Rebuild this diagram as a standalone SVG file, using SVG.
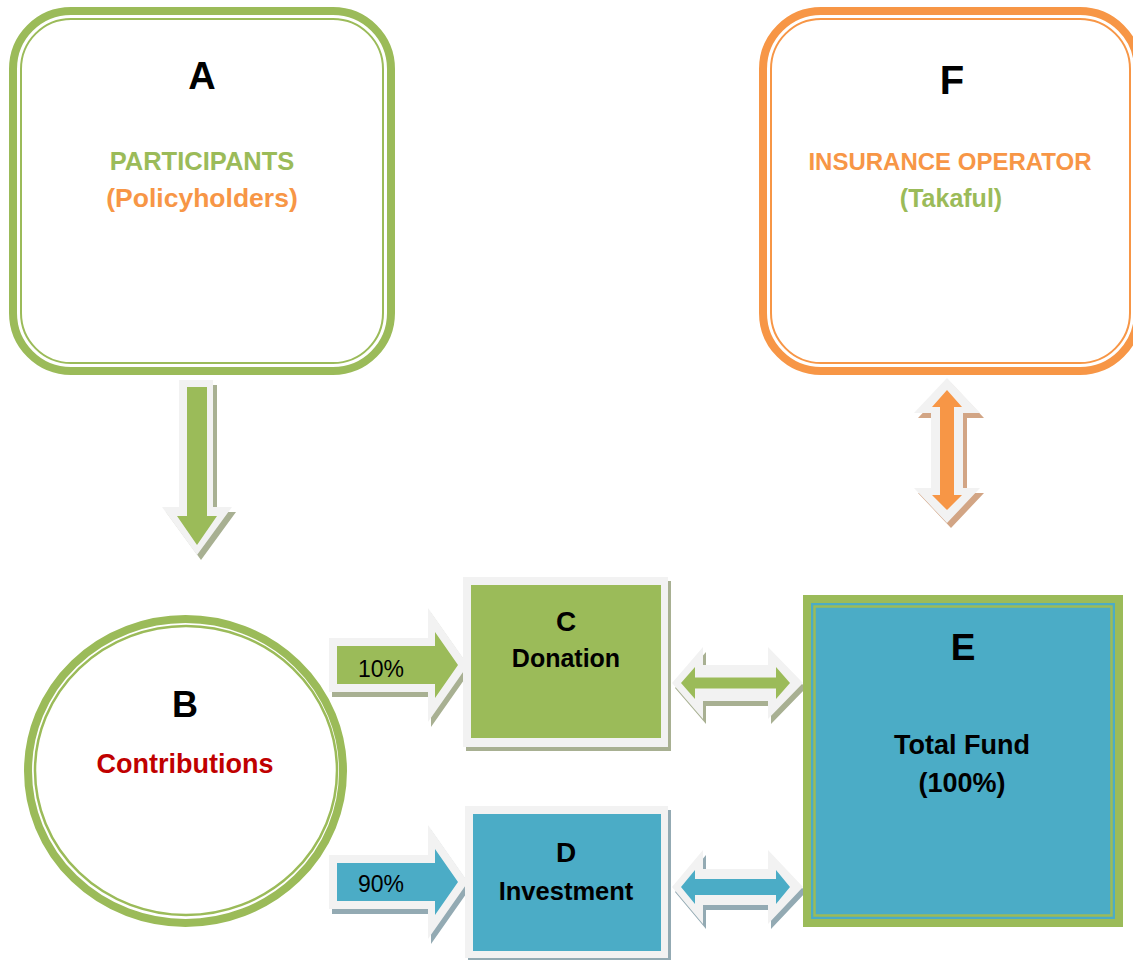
<svg xmlns="http://www.w3.org/2000/svg" width="1133" height="960" viewBox="0 0 1133 960">
<style>
.t{font-family:"Liberation Sans",Arial,sans-serif;font-weight:bold;text-anchor:middle;fill:#000}
.p{font-family:"Liberation Sans",Arial,sans-serif;font-weight:normal;font-size:23px;text-anchor:middle;fill:#000}
.g{fill:#9BBB59}.o{fill:#F79646}.b{fill:#4BACC6}.r{fill:#C00000}
.rim{fill:#F2F2F2}
.shg{fill:#A8B092}.shb{fill:#93AAB3}.sho{fill:#D2A585}
</style>
<rect width="1133" height="960" fill="#fff"/>

<g id="connectors">
  <g id="arrow-A-B">
    <polygon class="shg" transform="translate(4,5)" points="179,380 213,380 213,507 232,507 197,555 162,507 179,507"/>
    <polygon class="rim" points="179,380 213,380 213,507 232,507 197,555 162,507 179,507"/>
    <polygon class="g" points="187,387 207,387 207,516 217,516 197,545 177,516 187,516"/>
  </g>
  <g id="arrow-B-C">
    <polygon class="shg" transform="translate(3,5)" points="329,638 428,638 428,608 468,665 428,722 428,692 329,692"/>
    <polygon class="rim" points="329,638 428,638 428,608 468,665 428,722 428,692 329,692"/>
    <polygon class="g" points="337,646 435,646 435,632 458,665 435,698 435,684 337,684"/>
    <text class="p" x="381" y="677">10%</text>
  </g>
  <g id="arrow-B-D">
    <polygon class="shb" transform="translate(3,5)" points="329,855 428,855 428,825 468,882 428,939 428,909 329,909"/>
    <polygon class="rim" points="329,855 428,855 428,825 468,882 428,939 428,909 329,909"/>
    <polygon class="b" points="337,863 435,863 435,849 458,882 435,915 435,901 337,901"/>
    <text class="p" x="381" y="892">90%</text>
  </g>
  <g id="arrow-C-E">
    <polygon class="shg" transform="translate(3,5)" points="672,683 703,647 703,665 768,665 768,647 803,683 768,719 768,701 703,701 703,719"/>
    <polygon class="rim" points="672,683 703,647 703,665 768,665 768,647 803,683 768,719 768,701 703,701 703,719"/>
    <polygon class="g" points="681,683 695,667 695,677.5 776,677.5 776,667 790,683 776,699 776,688.5 695,688.5 695,699"/>
  </g>
  <g id="arrow-D-E">
    <polygon class="shb" transform="translate(3,5)" points="672,887 703,850 703,869 768,869 768,850 803,887 768,924 768,905 703,905 703,924"/>
    <polygon class="rim" points="672,887 703,850 703,869 768,869 768,850 803,887 768,924 768,905 703,905 703,924"/>
    <polygon class="b" points="681,887 695,870 695,879 776,879 776,870 790,887 776,904 776,895 695,895 695,904"/>
  </g>
  <g id="arrow-E-F">
    <polygon class="sho" transform="translate(4,5)" points="947,378 980,413 963,413 963,488 980,488 947,523 914,488 931,488 931,413 914,413"/>
    <polygon class="rim" points="947,378 980,413 963,413 963,488 980,488 947,523 914,488 931,488 931,413 914,413"/>
    <polygon class="o" points="947,390 962,407 954,407 954,495 962,495 947,510 932,495 940,495 940,407 932,407"/>
  </g>
</g>

<g id="node-A">
  <rect x="13" y="11" width="378" height="360" rx="58" fill="#fff" stroke="#9BBB59" stroke-width="8"/>
  <rect x="21" y="19" width="362" height="344" rx="50" fill="none" stroke="#9BBB59" stroke-width="2"/>
  <text class="t" x="202" y="89" font-size="38">A</text>
  <text class="t g" x="202" y="170" font-size="25.5">PARTICIPANTS</text>
  <text class="t o" x="202" y="207" font-size="26.5">(Policyholders)</text>
</g>

<g id="node-F">
  <rect x="763" y="11" width="375" height="360" rx="58" fill="#fff" stroke="#F79646" stroke-width="8"/>
  <rect x="771" y="19" width="359" height="344" rx="50" fill="none" stroke="#F79646" stroke-width="2"/>
  <text class="t" x="952" y="94" font-size="40">F</text>
  <text class="t o" x="950" y="170" font-size="24">INSURANCE OPERATOR</text>
  <text class="t g" x="951" y="207" font-size="25">(Takaful)</text>
</g>

<g id="node-B">
  <ellipse cx="185.5" cy="771" rx="157.5" ry="152" fill="#fff" stroke="#9BBB59" stroke-width="8"/>
  <ellipse cx="186" cy="770.5" rx="151" ry="144.5" fill="none" stroke="#9BBB59" stroke-width="2.5"/>
  <text class="t" x="185" y="717" font-size="36">B</text>
  <text class="t r" x="185" y="773" font-size="27">Contributions</text>
</g>

<g id="node-C">
  <rect class="shg" x="466" y="581" width="205" height="170"/>
  <rect class="rim" x="463" y="577" width="205" height="170"/>
  <rect class="g" x="471" y="585" width="190" height="153"/>
  <text class="t" x="566" y="631" font-size="28">C</text>
  <text class="t" x="566" y="667" font-size="25">Donation</text>
</g>

<g id="node-D">
  <rect class="shb" x="468" y="810" width="203" height="152"/>
  <rect class="rim" x="465" y="806" width="203" height="152"/>
  <rect class="b" x="473" y="814" width="188" height="137"/>
  <text class="t" x="566" y="862" font-size="28">D</text>
  <text class="t" x="566" y="900" font-size="25.5">Investment</text>
</g>

<g id="node-E">
  <rect class="g" x="803" y="595" width="320" height="332"/>
  <rect class="b" x="811" y="603" width="304" height="316"/>
  <rect x="814.5" y="606.5" width="297" height="309" fill="none" stroke="#9BBB59" stroke-width="2.5"/>
  <text class="t" x="963" y="660" font-size="37">E</text>
  <text class="t" x="962" y="754" font-size="27">Total Fund</text>
  <text class="t" x="962" y="792" font-size="27">(100%)</text>
</g>
</svg>
